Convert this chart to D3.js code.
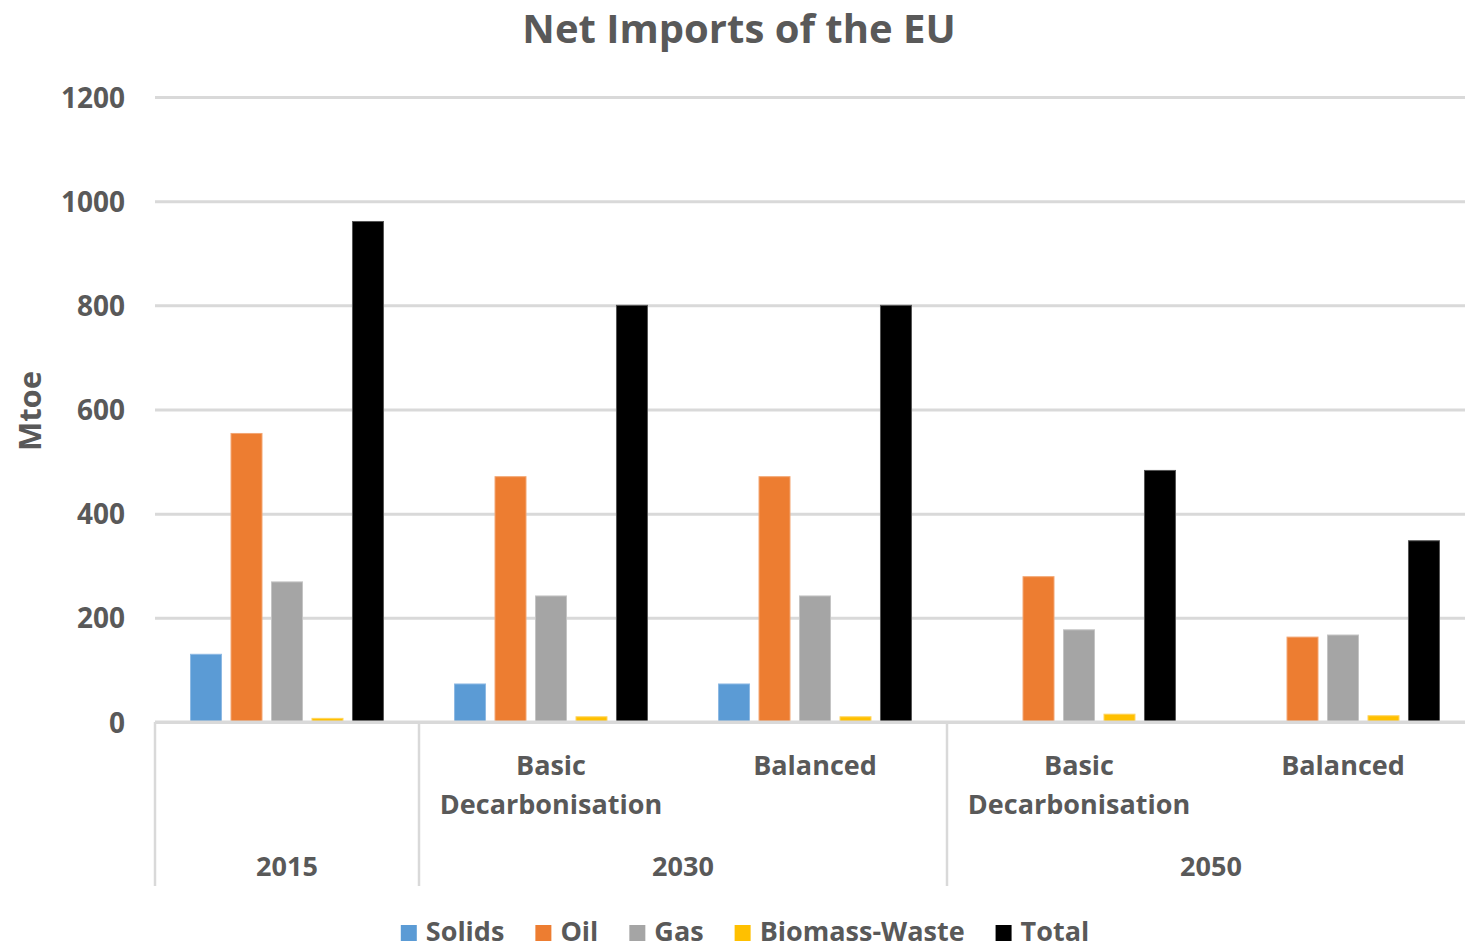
<!DOCTYPE html>
<html>
<head>
<meta charset="utf-8">
<script src="https://cdn.jsdelivr.net/npm/d3@7"></script>
<style>
  html, body { margin: 0; padding: 0; background: #fff; }
  svg { display: block; font-family: "Open Sans", Lato, sans-serif; font-weight: 700; }
</style>
</head>
<body>
<svg id="chart" width="1465" height="950"></svg>
<script>
// Net imports of the EU by fuel, Mtoe
const scenarios = ["2015", "2030 Basic", "2030 Balanced", "2050 Basic", "2050 Balanced"];
const scenarioLabels = [[], ["Basic", "Decarbonisation"], ["Balanced"], ["Basic", "Decarbonisation"], ["Balanced"]];
const years = [
  { label: "2015", from: 0, to: 0 },
  { label: "2030", from: 1, to: 2 },
  { label: "2050", from: 3, to: 4 }
];
const fuels = ["Solids", "Oil", "Gas", "Biomass-Waste", "Total"];
const solids  = [130, 73, 73, 1, 1];
const oil     = [554, 471, 471, 279, 163];
const gas     = [269, 242, 242, 177, 167];
const biomass = [7, 10, 10, 15, 12];
const total   = [961, 800, 800, 483, 348];
const yTicks  = [0, 200, 400, 600, 800, 1000, 1200];
const colors  = ["#5B9BD5", "#ED7D31", "#A5A5A5", "#FFC000", "#000000"];
const strokes = ["#8DB9E3", "#F3A673", "#C4C4C4", "#FFD45C", "#555555"];

const seriesValues = [solids, oil, gas, biomass, total];
const rows = scenarios.map((s, i) => ({ scenario: s, values: fuels.map((f, k) => ({ fuel: f, k, v: seriesValues[k][i] })) }));

const svg = d3.select("#chart");
const textColor = "#595959";
const gridColor = "#D9D9D9";
const labelSize = "27px";

const plot = { left: 155, right: 1475, top: 97, bottom: 722 };

const y = d3.scaleLinear().domain([0, 1200]).range([plot.bottom, plot.top]);
const x0 = d3.scaleBand().domain(scenarios).range([plot.left, plot.right]).padding(0);
const x1 = d3.scaleBand().domain(fuels).range([0, x0.bandwidth()]).paddingInner(0.21).paddingOuter(0.865);
const color = d3.scaleOrdinal().domain(fuels).range(colors);
const strokeColor = d3.scaleOrdinal().domain(fuels).range(strokes);

// Title
svg.append("text")
  .attr("x", 739).attr("y", 43)
  .attr("text-anchor", "middle")
  .attr("fill", textColor)
  .style("font-size", "40px")
  .text("Net Imports of the EU");

// Y axis title
svg.append("text")
  .attr("transform", "translate(41,411) rotate(-90)")
  .attr("text-anchor", "middle")
  .attr("fill", textColor)
  .style("font-size", "31px")
  .text("Mtoe");

// Gridlines and tick labels
const yAxis = d3.axisLeft(y).tickValues(yTicks).tickFormat(d3.format("d"))
  .tickSize(-(1465 - plot.left)).tickPadding(30);
const gy = svg.append("g").attr("transform", `translate(${plot.left},0)`).call(yAxis);
gy.select(".domain").remove();
gy.selectAll(".tick line").attr("stroke", gridColor).attr("stroke-width", 3);
gy.selectAll(".tick text")
  .attr("fill", textColor)
  .style("font-size", "28px")
  .style("font-family", "'Open Sans', sans-serif")
  .style("font-weight", 700)
  .attr("dy", "0.36em");

// Bars
const groups = svg.append("g").selectAll("g")
  .data(rows).join("g")
  .attr("transform", d => `translate(${x0(d.scenario)},0)`);

groups.selectAll("rect")
  .data(d => d.values).join("rect")
  .attr("x", d => x1(d.fuel) + 0.5)
  .attr("width", x1.bandwidth() - 1)
  .attr("y", d => y(d.v))
  .attr("height", d => y(0) - y(d.v))
  .attr("fill", d => color(d.fuel))
  .attr("stroke", d => strokeColor(d.fuel))
  .attr("stroke-width", 1);

// Category axis: baseline and group dividers
const axisG = svg.append("g");
axisG.append("line")
  .attr("x1", plot.left).attr("x2", 1465)
  .attr("y1", plot.bottom).attr("y2", plot.bottom)
  .attr("stroke", gridColor).attr("stroke-width", 3);

const dividerIdx = [0, 1, 3];
axisG.selectAll("line.div")
  .data(dividerIdx).join("line")
  .attr("class", "div")
  .attr("x1", d => x0(scenarios[d])).attr("x2", d => x0(scenarios[d]))
  .attr("y1", plot.bottom).attr("y2", 886)
  .attr("stroke", gridColor).attr("stroke-width", 2.5);

// Scenario labels
scenarios.forEach((s, i) => {
  const lines = scenarioLabels[i];
  const cx = x0(s) + x0.bandwidth() / 2;
  lines.forEach((t, j) => {
    axisG.append("text")
      .attr("x", cx).attr("y", 775 + j * 39)
      .attr("text-anchor", "middle")
      .attr("fill", textColor)
      .style("font-size", labelSize)
      .text(t);
  });
});

// Year labels
years.forEach(yr => {
  const a = x0(scenarios[yr.from]);
  const b = x0(scenarios[yr.to]) + x0.bandwidth();
  axisG.append("text")
    .attr("x", (a + b) / 2).attr("y", 876)
    .attr("text-anchor", "middle")
    .attr("fill", textColor)
    .style("font-size", labelSize)
    .text(yr.label);
});

// Legend
const legend = svg.append("g");
const items = legend.selectAll("g").data(fuels).join("g");
items.append("rect")
  .attr("width", 16).attr("height", 16)
  .attr("y", 925)
  .attr("fill", d => color(d));
items.append("text")
  .attr("x", 25).attr("y", 941)
  .attr("fill", textColor)
  .style("font-size", labelSize)
  .text(d => d);

let widths = [];
items.each(function () { widths.push(25 + this.querySelector("text").getComputedTextLength()); });
const gap = 31;
const totalW = d3.sum(widths) + gap * (widths.length - 1);
let cursor = 745 - totalW / 2;
items.attr("transform", (d, i) => {
  const t = `translate(${cursor},0)`;
  cursor += widths[i] + gap;
  return t;
});
</script>
</body>
</html>
